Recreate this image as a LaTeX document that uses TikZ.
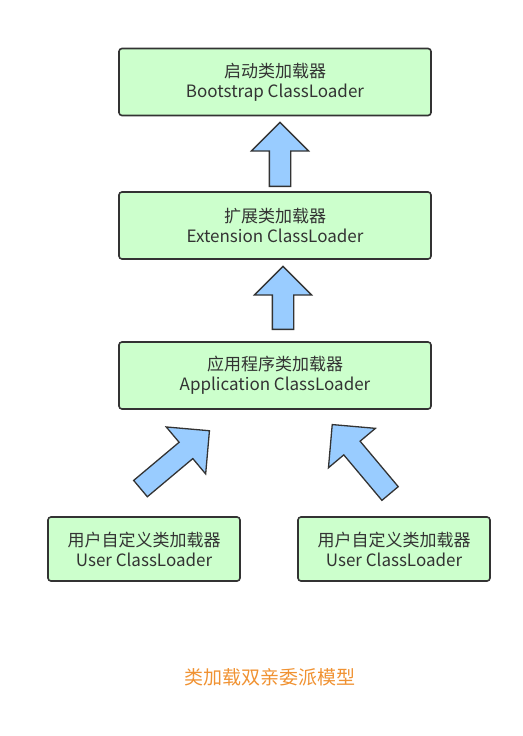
\documentclass[tikz,border=0pt]{standalone}
\usepackage{fontspec}
\setmainfont{Noto Sans CJK SC}
\usetikzlibrary{shapes.arrows}
\definecolor{boxgreen}{RGB}{204,255,204}
\definecolor{arrowblue}{RGB}{153,204,255}
\definecolor{linegray}{RGB}{51,51,51}
\definecolor{titleorange}{RGB}{240,146,50}

\begin{document}
\begin{tikzpicture}[x=1pt,y=-1pt,inner sep=0pt,
				loader/.style={rectangle,rounded corners=3pt,draw=linegray,line width=1.6pt,fill=boxgreen,
					text=linegray,align=center,font=\fontsize{17}{20}\selectfont,minimum height=67pt},
				wideloader/.style={loader,minimum width=312pt},
				userloader/.style={loader,minimum width=192pt,minimum height=64pt},
				blockarrow/.style={single arrow,draw=linegray,line width=1.3pt,fill=arrowblue,
					inner xsep=0pt,inner ysep=10pt,single arrow head extend=18pt,minimum height=#1,anchor=tail},
				blockarrow/.default=64pt]

				\useasboundingbox (0,0) rectangle (522,736);

				% the three fixed loaders
				\node[wideloader] (boot) at (275,82) {启动类加载器\\Bootstrap ClassLoader};
				\node[wideloader] (ext) at (275,225.5) {扩展类加载器\\Extension ClassLoader};
				\node[wideloader] (app) at (275,375.5) {应用程序类加载器\\Application ClassLoader};

				% user defined loaders
				\foreach \x [count=\n] in {144,394}{
					\node[userloader] (user\n) at (\x,549) {用户自定义类加载器\\User ClassLoader};
				}

				% parent delegation arrows
				\node[blockarrow,rotate=90] (up1) at (280,187) {};
				\node[blockarrow=63pt,rotate=90] (up2) at (283,330) {};
				\node[blockarrow=90pt,single arrow head extend=20pt,rotate=40] (diag1) at (140,489) {};
				\node[blockarrow=90pt,single arrow head extend=20pt,rotate=130] (diag2) at (390.5,494) {};

				\node[text=titleorange,font=\fontsize{19}{22}\selectfont] (title) at (270,677) {类加载双亲委派模型};

			\end{tikzpicture}
\end{document}
